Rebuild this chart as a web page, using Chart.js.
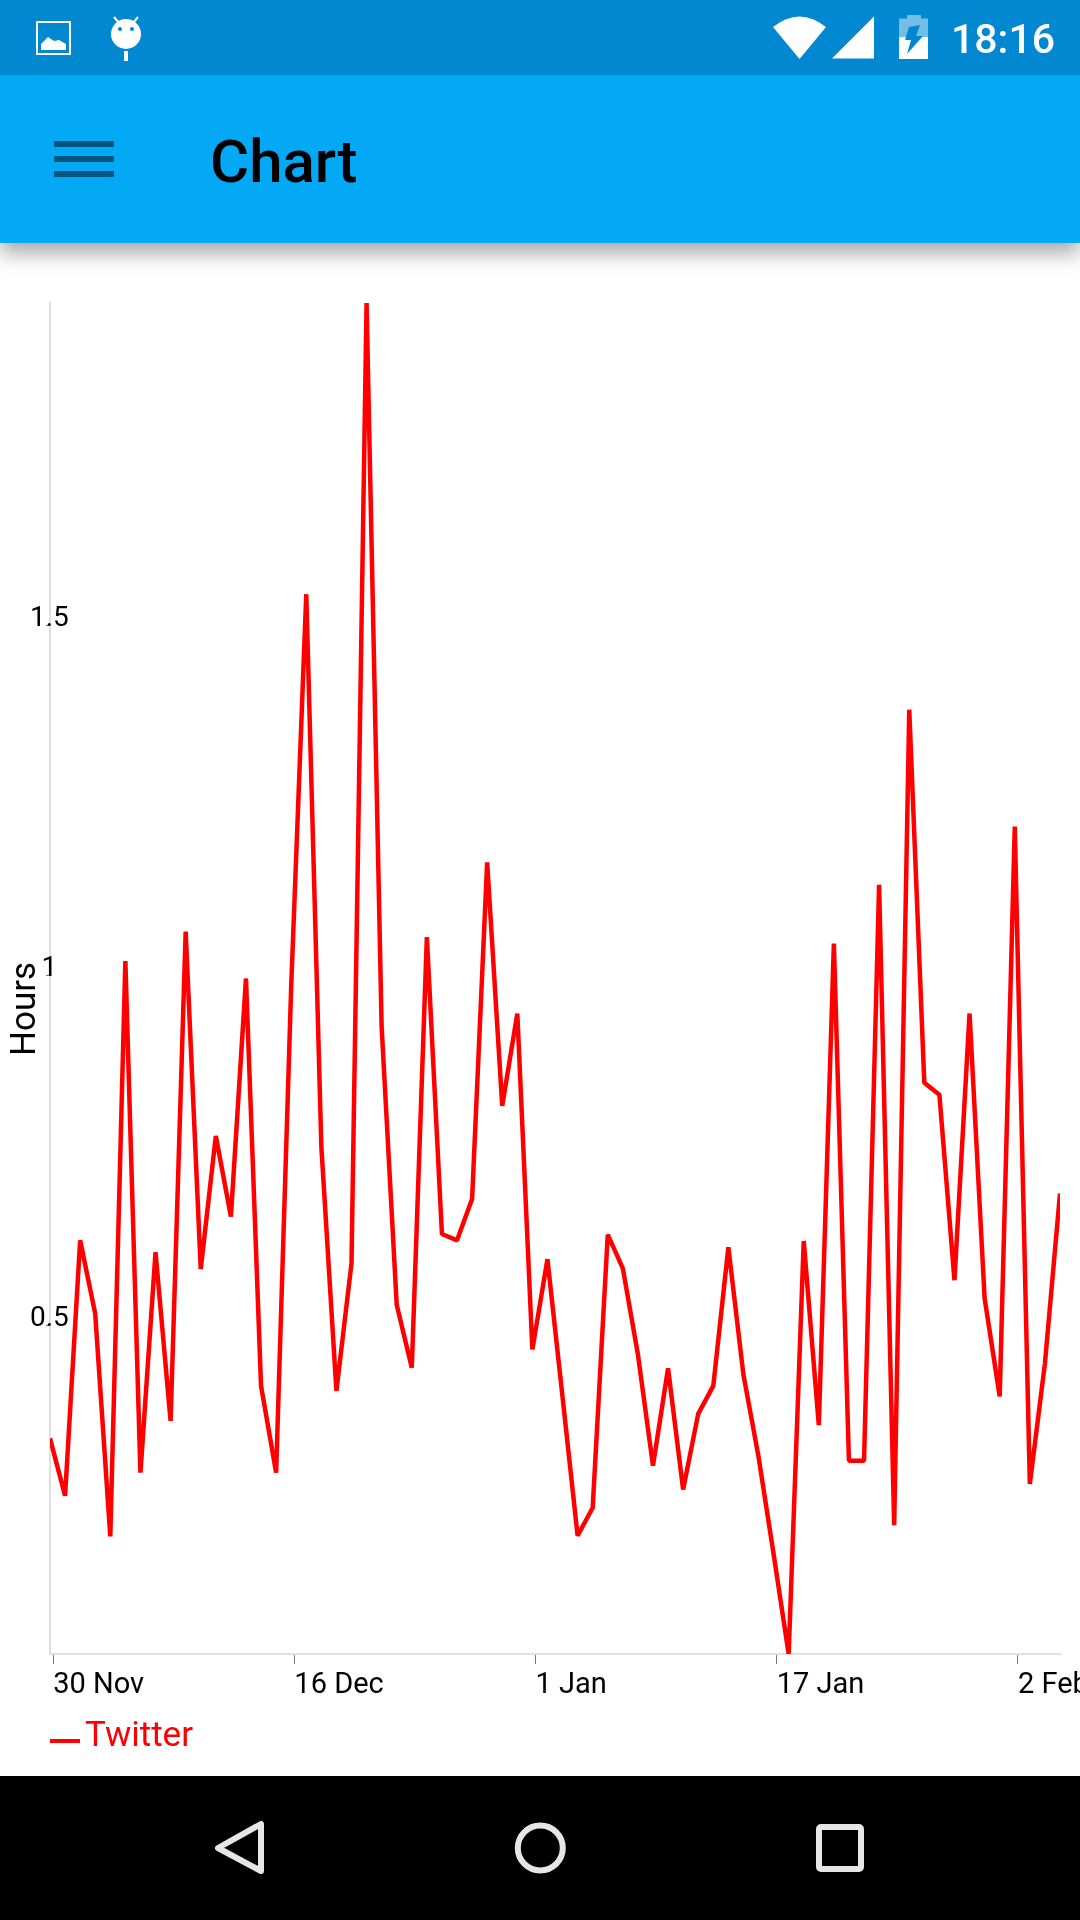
<!DOCTYPE html>
<html lang="en">
<head>
    <meta charset="UTF-8">
    <title>Chart</title>
    <script src="https://cdn.jsdelivr.net/npm/chart.js"></script>
    <style>
        html, body { margin: 0; padding: 0; background: #fff; }
        body { position: relative; width: 1080px; height: 1920px; overflow: hidden; font-family: Roboto, sans-serif; }
        #statusBar { position: absolute; left: 0; top: 0; width: 1080px; height: 75px; background: #0288d1; z-index: 3; }
        #statusTime { position: absolute; left: 951px; top: 16px; font-size: 41px; line-height: 47px; font-weight: 500; color: #fff; }
        #appBar { position: absolute; left: 0; top: 75px; width: 1080px; height: 168px; background: #03a9f4; box-shadow: 0 10px 20px rgba(0,0,0,.35); z-index: 2; }
        #appTitle { position: absolute; left: 210px; top: 52px; font-size: 60px; line-height: 69px; font-weight: 500; color: #000; }
        .bar { position: absolute; left: 54px; width: 60px; height: 6px; background: #01567f; }
        #chartWrap { position: absolute; left: 0; top: 240px; width: 1080px; height: 1536px; }
        #legend { position: absolute; left: 50px; top: 1715px; height: 40px; color: #f00; font-size: 35px; line-height: 40px; }
        #legend i { position: absolute; left: 0; top: 24px; width: 30px; height: 4px; background: #f00; }
        #legend span { position: absolute; left: 35px; top: 0; }
        #navBar { position: absolute; left: 0; top: 1776px; width: 1080px; height: 144px; background: #000; }
        svg { position: absolute; left: 0; top: 0; }
    </style>
</head>
<body>
    <div id="statusBar">
        <svg width="1080" height="75">
            <!-- notification icons -->
            <rect x="37" y="22" width="33" height="32" fill="none" stroke="#fff" stroke-width="2"></rect>
            <path d="M41 50 V44 L48 37 L54 41 L59 40 L66 44 V50 Z" fill="#fff"></path>
            <circle cx="126" cy="34" r="15" fill="#fff"></circle>
            <path d="M114 17 L119 23 M138 17 L133 23" stroke="#fff" stroke-width="2"></path>
            <circle cx="120" cy="29" r="2" fill="#0288d1"></circle>
            <circle cx="132" cy="29" r="2" fill="#0288d1"></circle>
            <rect x="124" y="51" width="4" height="10" fill="#fff"></rect>
            <!-- wifi, signal, battery -->
            <path d="M799.5 59 L773 27 Q799.5 6 826 27 Z" fill="#fff"></path>
            <path d="M832 58.5 L874 58.5 L874 16.5 Z" fill="#fff"></path>
            <path d="M899 18.5 H907 V15 H921 V18.5 H928 V37 H899 Z" fill="#fff" fill-opacity=".45"></path>
            <rect x="899" y="37" width="29" height="22" fill="#fff"></rect>
            <path d="M909 27 L920 25 L916 36 L923 36 L907 54 L911 40 L905 40 Z" fill="#0288d1"></path>
        </svg>
        <div id="statusTime">18:16</div>
    </div>

    <div id="appBar">
        <div class="bar" style="top:66px"></div>
        <div class="bar" style="top:81px"></div>
        <div class="bar" style="top:96px"></div>
        <div id="appTitle">Chart</div>
    </div>

    <div id="chartWrap"><canvas id="hoursChart" width="1080" height="1536"></canvas></div>
    <div id="legend"></div>

    <div id="navBar">
        <svg width="1080" height="144">
            <path d="M218 72 L261 48 V95 Z" fill="none" stroke="#e6e6e6" stroke-width="6" stroke-linejoin="round"></path>
            <circle cx="540.3" cy="72" r="22.5" fill="none" stroke="#e6e6e6" stroke-width="6"></circle>
            <rect x="819" y="51" width="42" height="42" rx="2" fill="none" stroke="#e6e6e6" stroke-width="6"></rect>
        </svg>
    </div>

    <script>
        const seriesName = 'Twitter';
        const axisTitle = 'Hours';

        // One reading per day
        const hours = [
            0.339, 0.257, 0.622, 0.517, 0.199, 1.021, 0.29, 0.605, 0.364, 1.063,
            0.581, 0.771, 0.656, 0.996, 0.414, 0.29, 0.985, 1.545, 0.756, 0.407,
            0.589, 1.961, 0.927, 0.53, 0.44, 1.055, 0.631, 0.622, 0.681, 1.162,
            0.814, 0.946, 0.466, 0.595, 0.398, 0.2, 0.24, 0.63, 0.582, 0.459,
            0.3, 0.439, 0.266, 0.374, 0.414, 0.612, 0.43, 0.313, 0.174, 0.031,
            0.621, 0.358, 1.046, 0.307, 0.307, 1.13, 0.215, 1.38, 0.847, 0.83,
            0.565, 0.946, 0.539, 0.399, 1.213, 0.274, 0.446, 0.689
        ];

        // Days counted from 30 Nov
        const xTickDays = [0, 16, 32, 48, 64];
        const xTickLabels = ['30 Nov', '16 Dec', '1 Jan', '17 Jan', '2 Feb'];
        const yTicks = [0.5, 1, 1.5];

        // The readings fall a few hours before midnight
        const readingShift = 0.21;

        Chart.defaults.font.family = 'Roboto';
        Chart.defaults.color = '#000';

        const ctx = document.getElementById('hoursChart').getContext('2d');
        const chart = new Chart(ctx, {
            type: 'line',
            data: {
                datasets: [{
                    label: seriesName,
                    data: hours.map((h, i) => ({ x: i - readingShift, y: h })),
                    borderColor: '#ff0000',
                    borderWidth: 4.5,
                    borderJoinStyle: 'bevel',
                    pointRadius: 0,
                    tension: 0,
                    fill: false,
                    clip: 0
                }]
            },
            options: {
                responsive: false,
                animation: false,
                layout: { padding: { left: 0, top: 63, right: 20, bottom: 82 } },
                plugins: {
                    legend: { display: false },
                    tooltip: { enabled: false }
                },
                scales: {
                    x: {
                        type: 'linear',
                        min: -readingShift,
                        max: hours.length - 1 - readingShift,
                        afterBuildTicks: axis => { axis.ticks = xTickDays.map(value => ({ value })); },
                        // "2 Feb" runs off the screen, so no room is kept for it
                        afterFit: axis => { axis.height = 40; axis.paddingLeft = 0; axis.paddingRight = 0; },
                        border: { color: '#e0e0e0', width: 2 },
                        grid: { drawOnChartArea: false, tickLength: 10, tickColor: '#777', tickWidth: 1 },
                        ticks: {
                            autoSkip: false,
                            maxRotation: 0,
                            align: 'start',
                            padding: 4,
                            font: { size: 29 },
                            callback: value => xTickLabels[xTickDays.indexOf(value)]
                        }
                    },
                    y: {
                        min: Math.min(...hours),
                        max: Math.max(...hours),
                        afterBuildTicks: axis => { axis.ticks = yTicks.map(value => ({ value })); },
                        afterFit: axis => { axis.width = 50; },
                        border: { color: '#e0e0e0', width: 2 },
                        grid: { drawOnChartArea: false, tickLength: 4, tickColor: '#777', tickWidth: 1 },
                        title: {
                            display: true,
                            text: axisTitle + '       ',
                            font: { size: 35 },
                            padding: { top: 5, bottom: 0 }
                        },
                        ticks: {
                            // mirror keeps the labels from being clipped at the axis line
                            mirror: true,
                            crossAlign: 'center',
                            padding: -20,
                            labelOffset: -7,
                            font: { size: 28 },
                            callback: value => String(value)
                        }
                    }
                }
            }
        });

        // Legend sits below the chart, line mark low against the text
        document.getElementById('legend').innerHTML =
            '<i></i><span>' + chart.data.datasets[0].label + '</span>';
    </script>
</body>
</html>
